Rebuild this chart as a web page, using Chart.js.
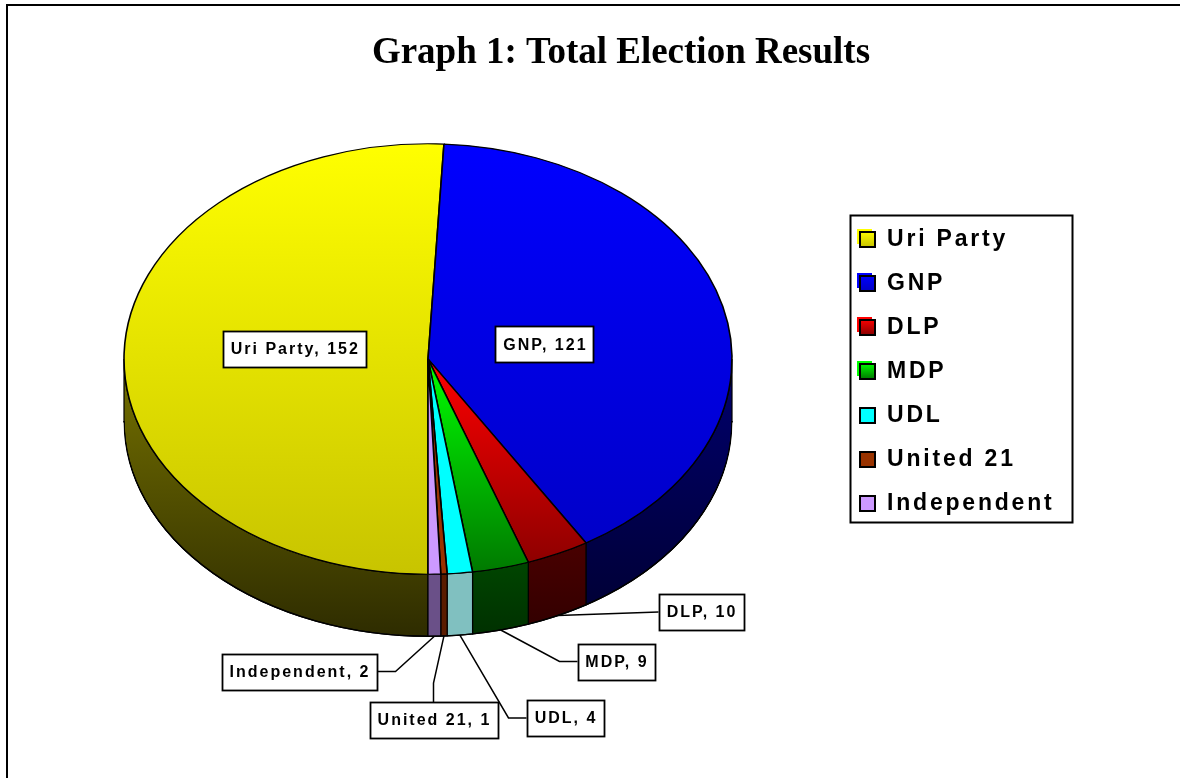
<!DOCTYPE html>
<html>
<head>
<meta charset="utf-8">
<script src="https://cdn.jsdelivr.net/npm/chart.js@4.4.0/dist/chart.umd.min.js"></script>
<style>
html, body { margin: 0; padding: 0; background: #fff; }
</style>
</head>
<body>
<canvas id="myChart" width="1180" height="778"></canvas>
<script>
// seats per party (2004 election)
var parties = ['Uri Party', 'GNP', 'DLP', 'MDP', 'UDL', 'United 21', 'Independent'];
var seats = [152, 121, 10, 9, 4, 1, 2];

// colours: top face light->dark, side wall light->dark
var topColors = ['#FFFF00', '#0000FF', '#FF0000', '#00FF00', '#00FFFF', '#993300', '#CC99FF'];
var lowColors = ['#C8C400', '#0000C4', '#880000', '#007800', '#00FFFF', '#993300', '#CC99FF'];
var sideTop = ['#767200', '#00006E', '#7A0000', '#008000', '#80C0C0', '#5A1C00', '#6A5088'];
var sideLow = ['#2E2C00', '#000030', '#300000', '#003000', '#80C0C0', '#5A1C00', '#6A5088'];

// where the pie sits on the page
var pieX = 428, pieY = 359, pieR = 304, squash = 0.708, depth = 62;

// label boxes: inside ones by radius fraction, outside ones with a leader line
var labelSpots = {
    'Uri Party':   { inside: 0.44, dy: -8 },
    'GNP':         { inside: 0.395, dy: 6 },
    'DLP':         { box: [701, 612], side: 'left', elbow: 0 },
    'MDP':         { box: [616, 661.5], side: 'left', elbow: 18 },
    'UDL':         { box: [565, 718], side: 'left', elbow: 18 },
    'United 21':   { box: [433.5, 720], side: 'top', elbow: 19 },
    'Independent': { box: [299, 671.5], side: 'right', elbow: 19 }
};

var TWO_PI = Math.PI * 2;

function topFill(c) {
    var chart = c.chart;
    if (!chart.chartArea) return topColors[c.dataIndex];
    var cy = (chart.chartArea.top + chart.chartArea.bottom) / 2;
    var g = chart.ctx.createLinearGradient(0, cy - pieR, 0, cy + pieR);
    var i = c.dataIndex;
    if (i < 2) {
        g.addColorStop(0, topColors[i]);
        g.addColorStop(1, lowColors[i]);
    } else {
        g.addColorStop(0, topColors[i]);
        g.addColorStop(0.5, topColors[i]);
        g.addColorStop(1, lowColors[i]);
    }
    return g;
}

function wall(ctx, a0, a1, i) {
    var g = ctx.createLinearGradient(0, pieY, 0, pieY + pieR * squash + depth);
    g.addColorStop(0, sideTop[i]);
    g.addColorStop(1, sideLow[i]);
    ctx.beginPath();
    ctx.ellipse(pieX, pieY, pieR, pieR * squash, 0, a0, a1);
    ctx.ellipse(pieX, pieY + depth, pieR, pieR * squash, 0, a1, a0, true);
    ctx.closePath();
    ctx.fillStyle = g;
    ctx.fill();
    ctx.strokeStyle = '#000';
    ctx.lineWidth = 1.2;
    ctx.stroke();
}

function labelFont(ctx) {
    ctx.font = 'bold 16px "Liberation Sans", Arial, sans-serif';
    ctx.letterSpacing = '2px';
}

function labelBox(ctx, text, cx, cy) {
    labelFont(ctx);
    var w = Math.round(ctx.measureText(text).width + 14), h = 36;
    var x = Math.round(cx - w / 2) + 0.5, y = Math.round(cy - h / 2) + 0.5;
    ctx.fillStyle = '#fff';
    ctx.fillRect(x, y, w, h);
    ctx.strokeStyle = '#000';
    ctx.lineWidth = 1.8;
    ctx.strokeRect(x, y, w, h);
    ctx.fillStyle = '#000';
    ctx.textAlign = 'center';
    ctx.textBaseline = 'middle';
    ctx.fillText(text, cx + 1, cy + 1);
    return { w: w, h: h };
}

function drawLegend(ctx) {
    var lx = 850.5, ly = 215.5, lw = 222, lh = 307;
    ctx.save();
    ctx.fillStyle = '#fff';
    ctx.fillRect(lx, ly, lw, lh);
    ctx.strokeStyle = '#000';
    ctx.lineWidth = 2;
    ctx.strokeRect(lx, ly, lw, lh);
    parties.forEach(function(p, i) {
        var y = 239 + i * 44;
        if (i < 4) {
            ctx.fillStyle = topColors[i];
            ctx.fillRect(857, y - 10, 15, 15);
        }
        var g = ctx.createLinearGradient(0, y - 8, 0, y + 8);
        g.addColorStop(0, topColors[i]);
        g.addColorStop(1, lowColors[i]);
        ctx.fillStyle = g;
        ctx.fillRect(860, y - 7, 15, 15);
        ctx.lineWidth = 2;
        ctx.strokeStyle = '#000';
        ctx.strokeRect(860, y - 7, 15, 15);
        ctx.fillStyle = '#000';
        ctx.font = 'bold 23px "Liberation Sans", Arial, sans-serif';
        ctx.letterSpacing = '2.8px';
        ctx.textAlign = 'left';
        ctx.textBaseline = 'middle';
        ctx.fillText(p, 887, y + 1);
    });
    ctx.restore();
}

var pie3d = {
    id: 'pie3d',
    beforeDatasetsDraw: function(chart) {
        var ctx = chart.ctx;
        var arcs = chart.getDatasetMeta(0).data;
        // side walls, only the front half shows
        arcs.forEach(function(arc, i) {
            var s = arc.startAngle, e = arc.endAngle;
            for (var k = -1; k <= 1; k++) {
                var lo = Math.max(s, TWO_PI * k), hi = Math.min(e, TWO_PI * k + Math.PI);
                if (hi > lo) wall(ctx, lo - TWO_PI * k, hi - TWO_PI * k, i);
            }
        });
        // bottom rim with white highlight
        ctx.beginPath();
        ctx.ellipse(pieX, pieY + depth, pieR, pieR * squash, 0, 0, Math.PI);
        ctx.strokeStyle = '#000';
        ctx.lineWidth = 1.5;
        ctx.stroke();
        ctx.beginPath();
        ctx.ellipse(pieX, pieY + depth + 1.5, pieR + 1, pieR * squash + 0.5, 0, 0, Math.PI);
        ctx.strokeStyle = '#fff';
        ctx.lineWidth = 1.2;
        ctx.stroke();

        // squash the flat pie into the top face
        var c = arcs[0];
        ctx.save();
        ctx.translate(pieX, pieY);
        ctx.scale(1, squash);
        ctx.translate(-c.x, -c.y);
    },
    afterDatasetsDraw: function(chart) {
        var ctx = chart.ctx;
        ctx.restore();
        var arcs = chart.getDatasetMeta(0).data;
        ctx.save();
        arcs.forEach(function(arc, i) {
            var spot = labelSpots[parties[i]];
            var mid = (arc.startAngle + arc.endAngle) / 2;
            var text = parties[i] + ', ' + seats[i];
            if (spot.inside) {
                var cx = pieX + spot.inside * pieR * Math.cos(mid);
                var cy = pieY + spot.inside * pieR * squash * Math.sin(mid) + spot.dy;
                labelBox(ctx, text, cx, cy);
                return;
            }
            var ax = pieX + pieR * Math.cos(mid);
            var ay = pieY + pieR * squash * Math.sin(mid) + depth;
            labelFont(ctx);
            var w = Math.round(ctx.measureText(text).width + 14), h = 36;
            var bx = spot.box[0], by = spot.box[1];
            var tx, ty, ex, ey;
            if (spot.side === 'left') { tx = bx - w / 2; ty = by; ex = tx - spot.elbow; ey = ty; }
            else if (spot.side === 'right') { tx = bx + w / 2; ty = by; ex = tx + spot.elbow; ey = ty; }
            else { tx = bx; ty = by - h / 2; ex = tx; ey = ty - spot.elbow; }
            ctx.beginPath();
            ctx.moveTo(ax, ay);
            ctx.lineTo(ex, ey);
            ctx.lineTo(tx, ty);
            ctx.strokeStyle = '#000';
            ctx.lineWidth = 1.5;
            ctx.stroke();
            labelBox(ctx, text, bx, by);
        });
        ctx.restore();
        drawLegend(ctx);
        // frame (left and top edges only are in view)
        ctx.save();
        ctx.strokeStyle = '#000';
        ctx.lineWidth = 2;
        ctx.beginPath();
        ctx.moveTo(7, 778);
        ctx.lineTo(7, 5);
        ctx.lineTo(1180, 5);
        ctx.stroke();
        ctx.restore();
    }
};

var config = {
    type: 'pie',
    data: {
        labels: parties,
        datasets: [{
            data: seats,
            backgroundColor: topFill,
            borderColor: '#000',
            borderWidth: 1.6,
            radius: pieR,
            clip: false
        }]
    },
    options: {
        responsive: false,
        animation: false,
        rotation: 180,
        events: [],
        layout: { padding: { left: 62, right: 0, top: 0, bottom: 0 } },
        plugins: {
            legend: { display: false },
            tooltip: { enabled: false },
            title: {
                display: true,
                text: 'Graph 1: Total Election Results',
                color: '#000',
                font: { family: "'Liberation Serif', 'Times New Roman', serif", size: 37, weight: 'bold' },
                padding: { top: 31, bottom: 10 }
            }
        }
    },
    plugins: [pie3d]
};

window.onload = function() {
    var ctx = document.getElementById('myChart').getContext('2d');
    window.myPie = new Chart(ctx, config);
};
</script>
</body>
</html>
